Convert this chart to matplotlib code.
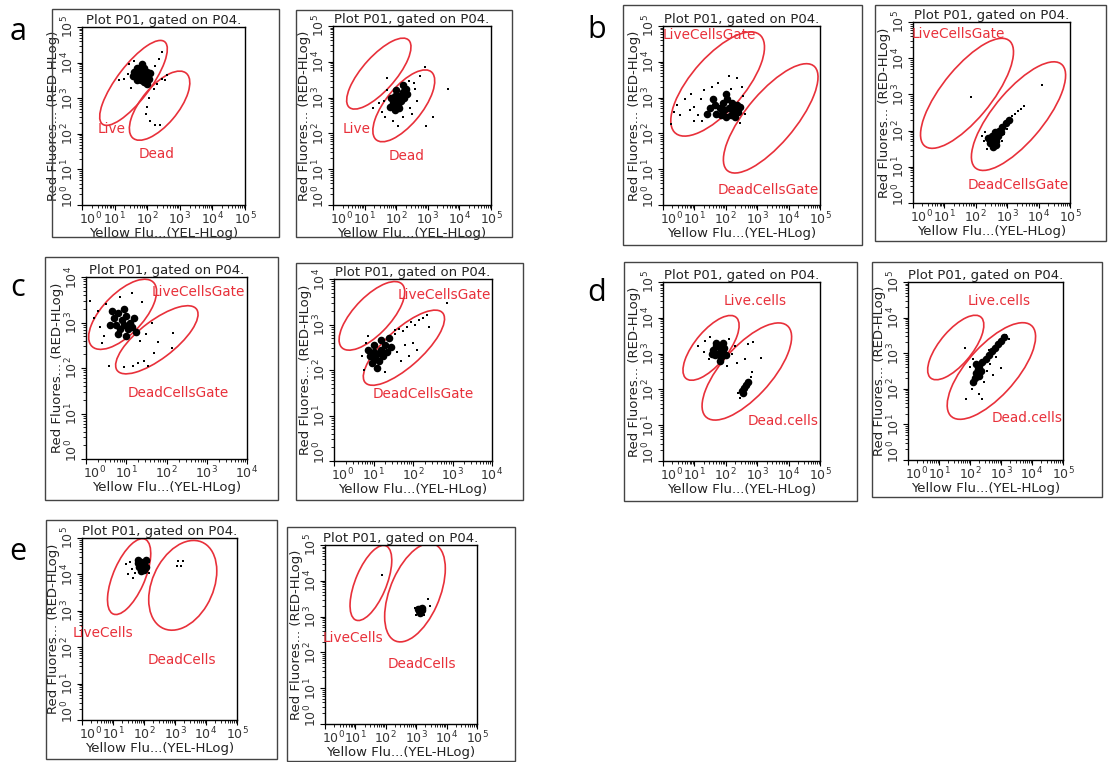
import numpy as np
import matplotlib

matplotlib.use("Agg")
import matplotlib.pyplot as plt
from matplotlib.patches import Ellipse, Rectangle
from matplotlib.transforms import ScaledTranslation

W, H = 1108, 762
RED = "#e8303a"

# all values are log10 of the channel reading
# gates: (centre x, centre y, major, minor, angle)
a1_gates = [(1.58, 3.43, 3.0, 1.0, 50), (2.38, 2.79, 2.45, 1.1, 47)]
a2_gates = [(1.45, 3.67, 2.66, 1.0, 44), (2.24, 2.77, 2.58, 1.1, 46)]
b1_gates = [(1.74, 3.38, 3.85, 1.6, 44), (3.43, 2.42, 4.02, 1.5, 45.5)]
b2_gates = [(1.72, 3.03, 3.97, 1.5, 46), (3.36, 2.40, 3.97, 1.5, 45)]
c1_gates = [(0.91, 3.18, 2.08, 0.95, 41), (1.76, 2.62, 2.39, 0.85, 33.5)]
c2_gates = [(0.96, 3.19, 2.07, 0.87, 41), (1.77, 2.49, 2.49, 0.87, 37)]
d1_gates = [(1.53, 3.16, 2.34, 1.0, 45.5), (2.67, 2.50, 3.64, 1.5, 43)]
d2_gates = [(1.54, 3.16, 2.36, 1.0, 45), (2.69, 2.50, 3.64, 1.5, 43)]
e1_gates = [(1.52, 3.94, 2.3, 1.0, 62), (3.25, 3.70, 2.7, 1.9, 55)]
e2_gates = [(1.51, 3.94, 2.3, 1.0, 63), (2.96, 3.67, 3.0, 1.6, 62)]

# gate labels: (text, x, y)
a1_labels = [("Live", 0.92, 2.14), ("Dead", 2.30, 1.42)]
a2_labels = [("Live", 0.74, 2.12), ("Dead", 2.33, 1.38)]
b1_labels = [("LiveCellsGate", 1.49, 4.74), ("DeadCellsGate", 3.35, 0.41)]
b2_labels = [("LiveCellsGate", 1.44, 4.68), ("DeadCellsGate", 3.35, 0.50)]
c1_labels = [("LiveCellsGate", 2.80, 3.66), ("DeadCellsGate", 2.30, 1.45)]
c2_labels = [("LiveCellsGate", 2.80, 3.65), ("DeadCellsGate", 2.27, 1.47)]
d1_labels = [("Live.cells", 2.93, 4.46), ("Dead.cells", 3.83, 1.13)]
d2_labels = [("Live.cells", 2.94, 4.46), ("Dead.cells", 3.85, 1.19)]
e1_labels = [("LiveCells", 0.67, 2.38), ("DeadCells", 3.21, 1.66)]
e2_labels = [("LiveCells", 0.93, 2.39), ("DeadCells", 3.19, 1.68)]

# events: dense cores and sparse outliers, (x, y)
a1_core = [(1.60, 3.75), (1.70, 3.85), (1.80, 3.80), (1.90, 3.85), (2.00, 3.75), (1.65, 3.60),
           (1.75, 3.65), (1.85, 3.70), (1.95, 3.62), (2.05, 3.55), (1.80, 3.50), (1.90, 3.45),
           (2.00, 3.40), (1.70, 3.50), (2.10, 3.70), (1.85, 3.95), (1.55, 3.62)]
a1_sparse = [(1.30, 3.55), (1.40, 3.68), (1.15, 3.50), (1.45, 3.95), (1.60, 4.05), (2.25, 3.90),
             (2.35, 4.10), (2.45, 4.30), (2.30, 3.40), (2.45, 3.55), (2.55, 3.50), (2.20, 3.25),
             (2.05, 3.00), (2.00, 2.75), (2.10, 2.35), (2.25, 2.25), (2.40, 2.25), (1.95, 2.55),
             (0.00, 3.75), (1.50, 3.30), (2.60, 3.65)]

a2_core = [(1.80, 2.75), (1.90, 2.85), (2.00, 2.95), (2.10, 3.05), (2.20, 3.15), (2.30, 3.25),
           (1.95, 3.05), (2.05, 2.80), (2.15, 2.90), (2.25, 3.00), (1.85, 3.00), (2.00, 3.20),
           (2.10, 2.70), (2.20, 3.35), (1.95, 2.65), (2.35, 3.10)]
a2_sparse = [(1.55, 2.60), (1.65, 2.45), (1.70, 3.20), (1.60, 2.90), (2.40, 3.45), (2.55, 3.40),
             (2.60, 3.25), (2.45, 2.70), (2.65, 2.90), (2.90, 3.85), (2.95, 2.20), (3.15, 2.45),
             (3.65, 3.25), (1.70, 3.55), (1.25, 2.70), (1.90, 2.35), (2.05, 2.20), (2.20, 2.45),
             (2.75, 3.60), (2.50, 2.55), (1.45, 2.85)]

b1_core = [(1.50, 2.70), (1.65, 2.80), (1.80, 2.70), (1.95, 2.65), (2.10, 2.70), (2.25, 2.65),
           (2.40, 2.60), (1.70, 2.55), (1.85, 2.50), (2.00, 2.45), (2.15, 2.50), (2.30, 2.45),
           (1.90, 2.85), (2.05, 2.95), (2.20, 2.85), (2.35, 2.80), (1.60, 2.95), (2.45, 2.75),
           (1.40, 2.55), (2.00, 3.10)]
b1_sparse = [(0.35, 2.60), (0.45, 2.80), (0.55, 2.50), (0.70, 2.95), (0.85, 2.65), (1.00, 2.75),
             (1.10, 2.50), (1.20, 2.95), (0.90, 3.10), (1.30, 3.20), (1.55, 3.30), (1.75, 3.40),
             (2.10, 3.60), (2.35, 3.55), (2.50, 3.30), (2.55, 3.05), (2.60, 2.55), (2.45, 2.30),
             (1.25, 2.35), (2.15, 3.25), (0.25, 2.25), (1.00, 2.35)]

b2_core = [(2.45, 1.65), (2.55, 1.75), (2.65, 1.70), (2.50, 1.85), (2.60, 1.95), (2.70, 1.85),
           (2.55, 1.55), (2.75, 2.00), (2.85, 2.10), (2.95, 2.20), (3.05, 2.30), (2.40, 1.80),
           (2.65, 1.60), (2.80, 1.95)]
b2_sparse = [(3.15, 2.40), (3.25, 2.45), (3.35, 2.55), (3.45, 2.60), (3.55, 2.68), (3.10, 2.30),
             (2.25, 1.70), (2.30, 1.95), (2.35, 1.50), (2.90, 1.90), (3.00, 2.05), (1.84, 2.92),
             (4.10, 3.26), (2.20, 1.85), (2.85, 1.70)]

c1_core = [(0.70, 3.10), (0.80, 3.20), (0.90, 3.05), (1.00, 3.15), (1.10, 3.00), (0.75, 2.95),
           (0.85, 2.85), (0.95, 2.95), (1.05, 2.85), (1.15, 2.90), (0.65, 3.25), (0.95, 3.30),
           (1.20, 3.10), (0.80, 2.75), (1.00, 2.70), (1.25, 2.80), (0.60, 2.95)]
c1_sparse = [(0.10, 3.47), (0.20, 3.10), (0.35, 2.90), (0.30, 3.25), (0.45, 2.70), (0.50, 3.40),
             (1.14, 3.65), (1.40, 3.45), (1.35, 2.60), (1.50, 2.75), (1.63, 2.99), (1.80, 2.58),
             (2.16, 2.78), (2.13, 2.44), (1.68, 2.32), (1.43, 2.15), (1.18, 2.04), (0.56, 2.04),
             (0.95, 2.02), (1.30, 2.10), (1.55, 2.05), (0.40, 2.55), (0.85, 3.55)]

c2_core = [(0.90, 2.30), (1.00, 2.40), (1.10, 2.35), (1.20, 2.45), (1.30, 2.55), (0.95, 2.15),
           (1.05, 2.25), (1.15, 2.20), (1.25, 2.30), (1.35, 2.40), (1.00, 2.55), (1.20, 2.65),
           (1.40, 2.70), (0.85, 2.45), (1.10, 2.05), (1.45, 2.50)]
c2_sparse = [(1.55, 2.80), (1.65, 2.90), (1.75, 2.85), (1.85, 2.95), (1.95, 3.05), (2.05, 3.00),
             (2.15, 3.10), (2.26, 3.15), (2.35, 3.20), (1.60, 2.40), (1.80, 2.55), (2.00, 2.60),
             (2.10, 2.45), (1.70, 2.20), (0.75, 2.00), (0.80, 2.60), (0.87, 2.75), (1.54, 2.88),
             (2.85, 3.47), (1.30, 1.95), (0.70, 2.30), (1.90, 2.30), (2.40, 2.95)]

d1_core = [(1.60, 3.10), (1.70, 3.20), (1.80, 3.15), (1.90, 3.05), (1.65, 2.95), (1.75, 3.00),
           (1.85, 2.90), (1.95, 3.15), (1.70, 3.30), (1.80, 2.80), (2.00, 2.95), (1.55, 3.00),
           (1.90, 3.30), (2.50, 1.95), (2.58, 2.05), (2.65, 2.12), (2.72, 2.20), (2.55, 1.90)]
d1_sparse = [(1.13, 3.21), (1.30, 3.05), (1.35, 3.35), (1.45, 2.85), (2.10, 3.40), (2.19, 2.98),
             (2.30, 3.20), (2.72, 3.28), (2.88, 3.33), (3.12, 2.89), (2.60, 2.85), (2.40, 1.90),
             (2.45, 1.75), (2.80, 2.35), (2.85, 2.50), (1.50, 3.45), (2.05, 2.65), (2.35, 2.75)]

d2_core = [(2.15, 2.30), (2.20, 2.45), (2.25, 2.55), (2.30, 2.65), (2.20, 2.70), (2.35, 2.50),
           (2.40, 2.75), (2.50, 2.85), (2.60, 2.95), (2.70, 3.05), (2.80, 3.15), (2.90, 3.25),
           (3.00, 3.35), (3.10, 3.45), (2.10, 2.20), (2.28, 2.35)]
d2_sparse = [(1.88, 1.71), (1.83, 3.15), (3.01, 2.59), (2.05, 2.00), (2.30, 1.85), (2.45, 2.20),
             (2.55, 2.50), (2.65, 2.70), (2.85, 2.90), (3.17, 3.52), (2.00, 2.60), (2.10, 2.85),
             (2.60, 3.10), (3.25, 3.40), (2.40, 1.70), (2.75, 2.40)]

e1_core = [(1.80, 4.30), (1.90, 4.35), (2.00, 4.30), (1.85, 4.20), (1.95, 4.25), (2.05, 4.20),
           (1.90, 4.10), (2.00, 4.12), (1.80, 4.40), (2.05, 4.40)]
e1_sparse = [(1.43, 4.28), (1.48, 4.00), (1.60, 4.15), (1.70, 4.05), (1.55, 4.35), (2.15, 4.35),
             (2.15, 4.05), (3.10, 4.37), (3.05, 4.23), (3.27, 4.37), (3.20, 4.23), (1.65, 3.90)]

e2_core = [(3.08, 3.15), (3.13, 3.20), (3.18, 3.25), (3.12, 3.10), (3.20, 3.18), (3.05, 3.22)]
e2_sparse = [(1.87, 4.15), (3.38, 3.50), (3.44, 3.30), (3.00, 3.05), (3.25, 3.05), (2.95, 3.25)]

decades_5 = ["$10^{0}$", "$10^{1}$", "$10^{2}$", "$10^{3}$", "$10^{4}$", "$10^{5}$"]
decades_4 = decades_5[:5]

# layout in pixels: outer box (x0, y0, x1, y1), plot area (x0, y0, x1, y1)
layout = [
    ((52, 9, 279, 237), (82, 27, 245, 205), decades_5, a1_gates, a1_labels, a1_core, a1_sparse),
    ((296, 10, 512, 237), (333, 26, 491, 205), decades_5, a2_gates, a2_labels, a2_core, a2_sparse),
    ((623, 5, 862, 245), (663, 26, 820, 205), decades_5, b1_gates, b1_labels, b1_core, b1_sparse),
    ((875, 5, 1106, 241), (913, 22, 1070, 203), decades_5, b2_gates, b2_labels, b2_core, b2_sparse),
    ((45, 257, 278, 500), (86, 277, 247, 459), decades_4, c1_gates, c1_labels, c1_core, c1_sparse),
    ((296, 263, 523, 500), (334, 279, 492, 461), decades_4, c2_gates, c2_labels, c2_core, c2_sparse),
    ((624, 262, 857, 501), (663, 282, 820, 461), decades_5, d1_gates, d1_labels, d1_core, d1_sparse),
    ((872, 262, 1102, 497), (908, 282, 1063, 460), decades_5, d2_gates, d2_labels, d2_core, d2_sparse),
    ((46, 520, 277, 759), (82, 538, 237, 720), decades_5, e1_gates, e1_labels, e1_core, e1_sparse),
    ((287, 527, 515, 761), (325, 545, 477, 724), decades_5, e2_gates, e2_labels, e2_core, e2_sparse),
]
letters = [("a", 18, 32), ("b", 597, 30), ("c", 18, 288), ("d", 597, 293), ("e", 18, 552)]

fig = plt.figure(figsize=(W / 100, H / 100), dpi=100)
nudge_x = ScaledTranslation(6 / 72, 0, fig.dpi_scale_trans)
nudge_y = ScaledTranslation(0, 6 / 72, fig.dpi_scale_trans)

for box, rect, ticklabels, gates, labels, core, sparse in layout:
    bx0, by0, bx1, by1 = box
    fig.add_artist(Rectangle((bx0 / W, 1 - by1 / H), (bx1 - bx0) / W, (by1 - by0) / H,
                             transform=fig.transFigure, fill=False, lw=1.0, ec="#444444"))
    x0, y0, x1, y1 = rect
    ax = fig.add_axes([x0 / W, 1 - y1 / H, (x1 - x0) / W, (y1 - y0) / H])
    n = len(ticklabels) - 1
    ax.set_xlim(0, n)
    ax.set_ylim(0, n)
    ax.set_xticks(range(n + 1))
    ax.set_yticks(range(n + 1))
    ax.set_xticklabels(ticklabels, fontsize=9, color="#333333")
    ax.set_yticklabels(ticklabels, fontsize=9, color="#333333", rotation=90, va="center")
    minor = [d + np.log10(k) for d in range(n) for k in range(2, 10)]
    ax.set_xticks(minor, minor=True)
    ax.set_yticks(minor, minor=True)
    ax.tick_params(which="major", direction="out", length=3.5, width=0.8, pad=0.5)
    ax.tick_params(which="minor", direction="out", length=2, width=0.6)
    # corner labels sit a little inward so the two 10^0 do not collide
    lx0 = ax.xaxis.get_major_ticks()[0].label1
    lx0.set_transform(lx0.get_transform() + nudge_x)
    ly0 = ax.yaxis.get_major_ticks()[0].label1
    ly0.set_transform(ly0.get_transform() + nudge_y)
    for sp in ax.spines.values():
        sp.set_linewidth(1.0)
    ax.set_xlabel("Yellow Flu...(YEL-HLog)", fontsize=9.5, labelpad=0, color="#222222")
    ax.set_ylabel("Red Fluores... (RED-HLog)", fontsize=9.5, labelpad=0, color="#222222")
    ax.set_title("Plot P01, gated on P04.", fontsize=9.5, pad=0.5, color="#222222")

    for cx, cy, major, minor_ax, ang in gates:
        ax.add_patch(Ellipse((cx, cy), major, minor_ax, angle=ang, fill=False, ec=RED, lw=1.2))
    for txt, tx, ty in labels:
        ax.text(tx, ty, txt, color=RED, fontsize=9.8, ha="center", va="center", clip_on=False)

    cx_, cy_ = zip(*core)
    ax.scatter(cx_, cy_, s=30, c="black", marker="o", linewidths=0)
    sx_, sy_ = zip(*sparse)
    ax.scatter(sx_, sy_, s=4, c="black", marker="s", linewidths=0)

for letter, lx, ly in letters:
    fig.text(lx / W, 1 - ly / H, letter, fontsize=22, ha="center", va="center", family="Open Sans")

fig.savefig("out.png", dpi=100)
